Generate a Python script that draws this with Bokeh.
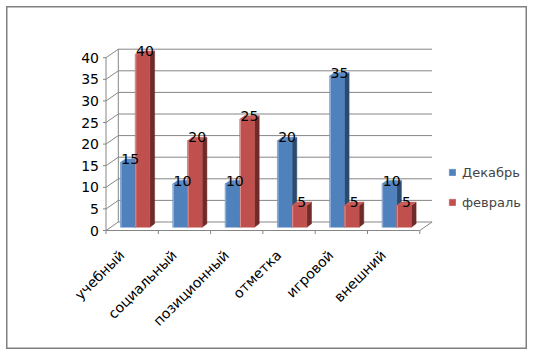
import numpy as np
from bokeh.plotting import figure
from bokeh.models import Range1d, Legend, LegendItem
from bokeh.core.properties import value
from bokeh.embed import file_html
from bokeh.resources import INLINE

# ---- data ----
categories = ["учебный", "социальный", "позиционный", "отметка", "игровой", "внешний"]
series_names = ["Декабрь", "февраль"]
dec_values = [15, 10, 10, 20, 35, 10]
feb_values = [40, 20, 25, 5, 5, 5]
y_ticks = [0, 5, 10, 15, 20, 25, 30, 35, 40]

# ---- layout constants (pixels) ----
OFF = 6                # page offset of the chart border
W, H = 521, 343
PX_X = 52.3            # pixels per category
PX_Y = 4.32            # pixels per value unit
X0 = 105.5 - OFF       # front axis position inside the figure
Y0 = 230 - OFF         # front zero line inside the figure

DX = 12.3 / PX_X       # wall depth (x units)
DY = 8.5 / PX_Y        # wall depth (y units)
BZ = 3.3 / PX_Y        # bar base lift
BX = 14.5 / PX_X       # gap before first bar in a category
BW = 14.7 / PX_X       # bar width
DDX = 4.7 / PX_X       # bar depth x
DDY = 3.5 / PX_Y       # bar depth y

GRID = "#868686"
FONT = value("DejaVu Sans")

p = figure(width=W, height=H, output_backend="svg", toolbar_location=None,
           x_range=Range1d(-X0 / PX_X, (W - X0) / PX_X),
           y_range=Range1d(-(H - Y0) / PX_Y, Y0 / PX_Y),
           min_border=0)
p.margin = (OFF, 0, 0, OFF)
p.axis.visible = False
p.grid.visible = False
p.outline_line_color = "#808080"
p.outline_line_width = 2
p.background_fill_color = "white"
p.border_fill_color = "white"

n = len(categories)
yt = np.array(y_ticks, dtype=float)
ymax = yt.max()

# back wall gridlines
p.segment(x0=np.full(len(yt), DX), y0=yt + DY, x1=np.full(len(yt), n + DX), y1=yt + DY,
          line_color=GRID, line_width=1)
# side wall diagonals
p.segment(x0=np.zeros(len(yt)), y0=yt, x1=np.full(len(yt), DX), y1=yt + DY,
          line_color=GRID, line_width=1)
# back wall left edge
p.segment(x0=[DX], y0=[DY], x1=[DX], y1=[ymax + DY], line_color=GRID, line_width=1)
# front value axis
p.segment(x0=[0], y0=[0], x1=[0], y1=[ymax], line_color=GRID, line_width=1)
# value ticks
p.segment(x0=np.full(len(yt), -3 / PX_X), y0=yt, x1=np.zeros(len(yt)), y1=yt,
          line_color=GRID, line_width=1)
# floor: front line and right diagonal
p.segment(x0=[0], y0=[0], x1=[n], y1=[0], line_color=GRID, line_width=1)
p.segment(x0=[n], y0=[0], x1=[n + DX], y1=[DY], line_color=GRID, line_width=1)
# category ticks
cb = np.arange(n + 1, dtype=float)
p.segment(x0=cb, y0=np.zeros(n + 1), x1=cb, y1=np.full(n + 1, -3.5 / PX_Y),
          line_color=GRID, line_width=1)

# value tick labels
p.text(x=np.full(len(yt), -7 / PX_X), y=yt, text=[str(v) for v in y_ticks],
       text_font=FONT, text_font_size="14px", text_align="right",
       text_baseline="middle", text_color="#000000")

# category labels
p.text(x=np.arange(n) + 0.5 - 16 / PX_X, y=np.full(n, -16.5 / PX_Y), text=categories,
       angle=np.pi / 4, text_font=FONT, text_font_size="14px", text_align="right",
       text_baseline="top", text_color="#000000")


def draw_series(vals, offset, front, side, top, light):
    v = np.array(vals, dtype=float)
    left = np.arange(n) + offset
    right = left + BW
    bottom = np.full(n, BZ)
    topv = v + BZ
    xs_side = [[r, r, r + DDX, r + DDX] for r in right]
    ys_side = [[b, t, t + DDY, b + DDY] for b, t in zip(bottom, topv)]
    p.patches(xs=xs_side, ys=ys_side, fill_color=side, line_color=side, line_width=0.5)
    xs_top = [[l, r, r + DDX, l + DDX] for l, r in zip(left, right)]
    ys_top = [[t, t, t + DDY, t + DDY] for t in topv]
    p.patches(xs=xs_top, ys=ys_top, fill_color=top, line_color=top, line_width=0.5)
    r = p.quad(left=left, right=right, bottom=bottom, top=topv,
               fill_color=front, line_color=front, line_width=0.5)
    # light highlight on the left edge of the front face
    p.segment(x0=left + 0.6 / PX_X, y0=bottom, x1=left + 0.6 / PX_X, y1=topv,
              line_color=light, line_width=1, line_alpha=0.8)
    return r, left, v


r_dec, l_dec, v_dec = draw_series(dec_values, BX, "#4F81BD", "#2B4A6F", "#5A8BC7", "#A9C2E2")
r_feb, l_feb, v_feb = draw_series(feb_values, BX + BW, "#C0504D", "#6E2B29", "#C95C59", "#E3A9A7")

# data labels
for left, v in ((l_dec, v_dec), (l_feb, v_feb)):
    p.text(x=left + BW / 2 + DDX / 2, y=v + BZ + DDY, text=[str(int(a)) for a in v],
           text_font=FONT, text_font_size="14px", text_align="center",
           text_baseline="middle", text_color="#000000")

legend = Legend(items=[LegendItem(label=series_names[0], renderers=[r_dec]),
                       LegendItem(label=series_names[1], renderers=[r_feb])],
                location=(442, 138), orientation="vertical", padding=0, margin=0,
                spacing=12, glyph_width=8, glyph_height=8, label_height=18,
                label_standoff=6, border_line_color=None, background_fill_alpha=0,
                label_text_font="DejaVu Sans", label_text_font_size="13px")
p.add_layout(legend)

open("out.html", "w").write(file_html(p, INLINE))
